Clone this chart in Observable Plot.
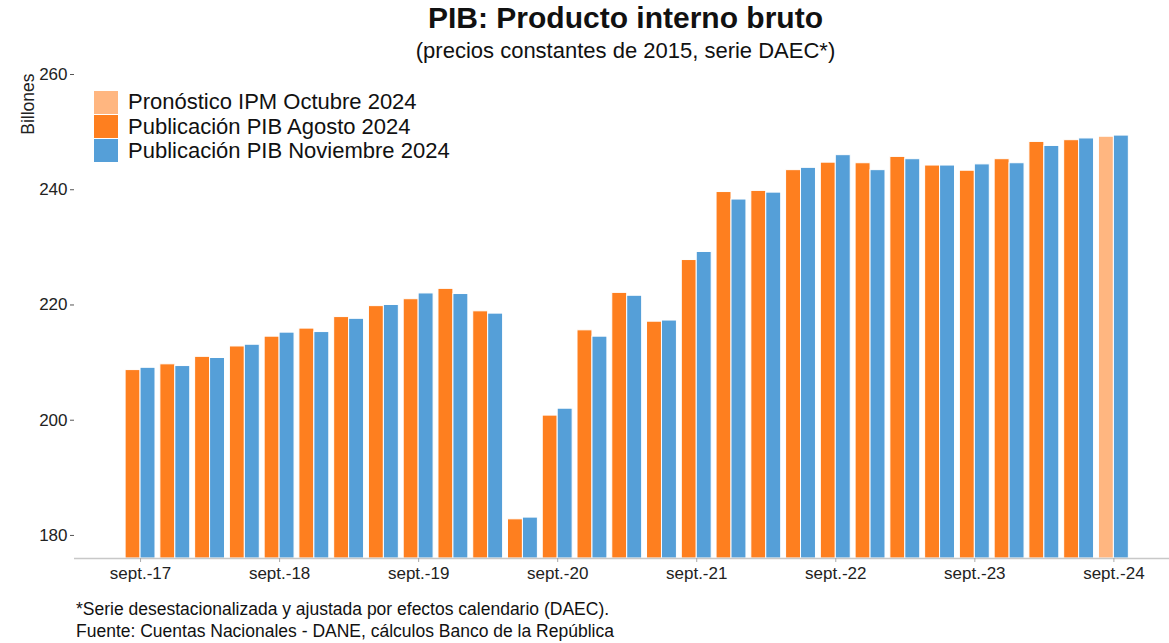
<!DOCTYPE html>
<html>
<head>
<meta charset="utf-8">
<script src="https://cdn.jsdelivr.net/npm/d3@7"></script>
<script src="https://cdn.jsdelivr.net/npm/@observablehq/plot@0.6"></script>
<style>
  body { margin: 0; background: #fff; font-family: "Liberation Sans", Arial, sans-serif; color: #111; }
  #wrap { position: relative; width: 1169px; height: 643px; overflow: hidden; }
  .title { height: 34px; line-height: 36px; font-size: 30px; font-weight: bold; text-align: center; padding-left: 82px; }
  .subtitle { height: 30px; line-height: 34px; font-size: 22px; text-align: center; padding-left: 82px; }
  .caption { padding: 4px 0 0 76px; font-size: 17.5px; line-height: 22px; color: #111; }
  .legend { position: absolute; left: 94px; top: 90px; }
  .legend .row { display: flex; align-items: center; height: 24.4px; }
  .legend .sw { width: 24px; height: 23px; margin-right: 10px; }
  .legend .lb { font-size: 22px; line-height: 24px; color: #111; }
</style>
</head>
<body>
<div id="wrap">
  <div class="title">PIB: Producto interno bruto</div>
  <div class="subtitle">(precios constantes de 2015, serie DAEC*)</div>
  <div id="chart"></div>
  <div class="caption">*Serie desestacionalizada y ajustada por efectos calendario (DAEC).<br>Fuente: Cuentas Nacionales - DANE, cálculos Banco de la República</div>
  <div class="legend" id="legend"></div>
</div>
<script>
// Quarters (categories)
const quarters = [
  "sept.-17","dic.-17","mar.-18","jun.-18","sept.-18","dic.-18","mar.-19","jun.-19",
  "sept.-19","dic.-19","mar.-20","jun.-20","sept.-20","dic.-20","mar.-21","jun.-21",
  "sept.-21","dic.-21","mar.-22","jun.-22","sept.-22","dic.-22","mar.-23","jun.-23",
  "sept.-23","dic.-23","mar.-24","jun.-24","sept.-24"
];
// Publicación PIB Agosto 2024 (sept.-17 .. jun.-24)
const agosto = [
  208.7, 209.7, 211.0, 212.8, 214.5, 215.9, 217.9, 219.8,
  221.0, 222.8, 218.9, 182.8, 200.8, 215.6, 222.1, 217.1,
  227.8, 239.6, 239.8, 243.4, 244.7, 244.6, 245.7, 244.2,
  243.3, 245.3, 248.3, 248.6
];
// Publicación PIB Noviembre 2024 (sept.-17 .. sept.-24)
const noviembre = [
  209.1, 209.4, 210.8, 213.1, 215.2, 215.3, 217.6, 220.0,
  222.0, 221.9, 218.5, 183.1, 202.0, 214.5, 221.6, 217.3,
  229.2, 238.3, 239.5, 243.8, 246.0, 243.4, 245.3, 244.2,
  244.4, 244.6, 247.6, 248.9, 249.4
];
// Pronóstico IPM Octubre 2024 (sept.-24)
const pronosticoQuarter = ["sept.-24"];
const pronostico = [249.2];

const seriesNames = ["Pronóstico IPM Octubre 2024", "Publicación PIB Agosto 2024", "Publicación PIB Noviembre 2024"];
const seriesColors = ["#FFB680", "#FE7F1F", "#559FD8"];
const yTicks = [180, 200, 220, 240, 260];
const yFloor = 176;
const xTickLabels = ["sept.-17","sept.-18","sept.-19","sept.-20","sept.-21","sept.-22","sept.-23","sept.-24"];

// Build table
const rows = [];
agosto.forEach((v, i) => rows.push({i, side: -1, series: seriesNames[1], value: v}));
pronostico.forEach((v, k) => rows.push({i: quarters.indexOf(pronosticoQuarter[k]), side: -1, series: seriesNames[0], value: v}));
noviembre.forEach((v, i) => rows.push({i, side: 1, series: seriesNames[2], value: v}));

const barW = 0.43;
const tickIdx = xTickLabels.map(q => quarters.indexOf(q));

const plot = Plot.plot({
  width: 1169,
  height: 530,
  marginTop: 10,
  marginBottom: 36,
  marginLeft: 74,
  marginRight: 0,
  x: {type: "linear", domain: [-1.9, 29.6], axis: null},
  y: {domain: [yFloor, 260], axis: null},
  color: {domain: seriesNames, range: seriesColors},
  style: {fontFamily: "'Liberation Sans', Arial, sans-serif", fontSize: "17px", color: "#222", background: "white"},
  marks: [
    Plot.rect(rows, {
      x1: d => d.side < 0 ? d.i - barW : d.i,
      x2: d => d.side < 0 ? d.i : d.i + barW,
      y1: yFloor,
      y2: "value",
      fill: "series",
      stroke: "white",
      strokeWidth: 1
    }),
    Plot.ruleY([yFloor], {stroke: "#c8c8c8", strokeWidth: 1.5}),
    Plot.axisX({ticks: tickIdx, tickFormat: i => quarters[i], tickSize: 4, tickPadding: 4, stroke: "#aaa", fontSize: 17, fill: "#222"}),
    Plot.axisY({ticks: yTicks, tickSize: 4, tickPadding: 3, label: null, stroke: "#555", fontSize: 17, fill: "#222"}),
    Plot.text(["Billones"], {frameAnchor: "top-left", rotate: -90, textAnchor: "end", dx: -53, dy: -1, fontSize: 17.5, fill: "#222"})
  ]
});
document.getElementById("chart").appendChild(plot);

// Legend
const lg = document.getElementById("legend");
seriesNames.forEach((n, k) => {
  const r = document.createElement("div");
  r.className = "row";
  r.innerHTML = `<span class="sw" style="background:${seriesColors[k]}"></span><span class="lb">${n}</span>`;
  lg.appendChild(r);
});
</script>
</body>
</html>
